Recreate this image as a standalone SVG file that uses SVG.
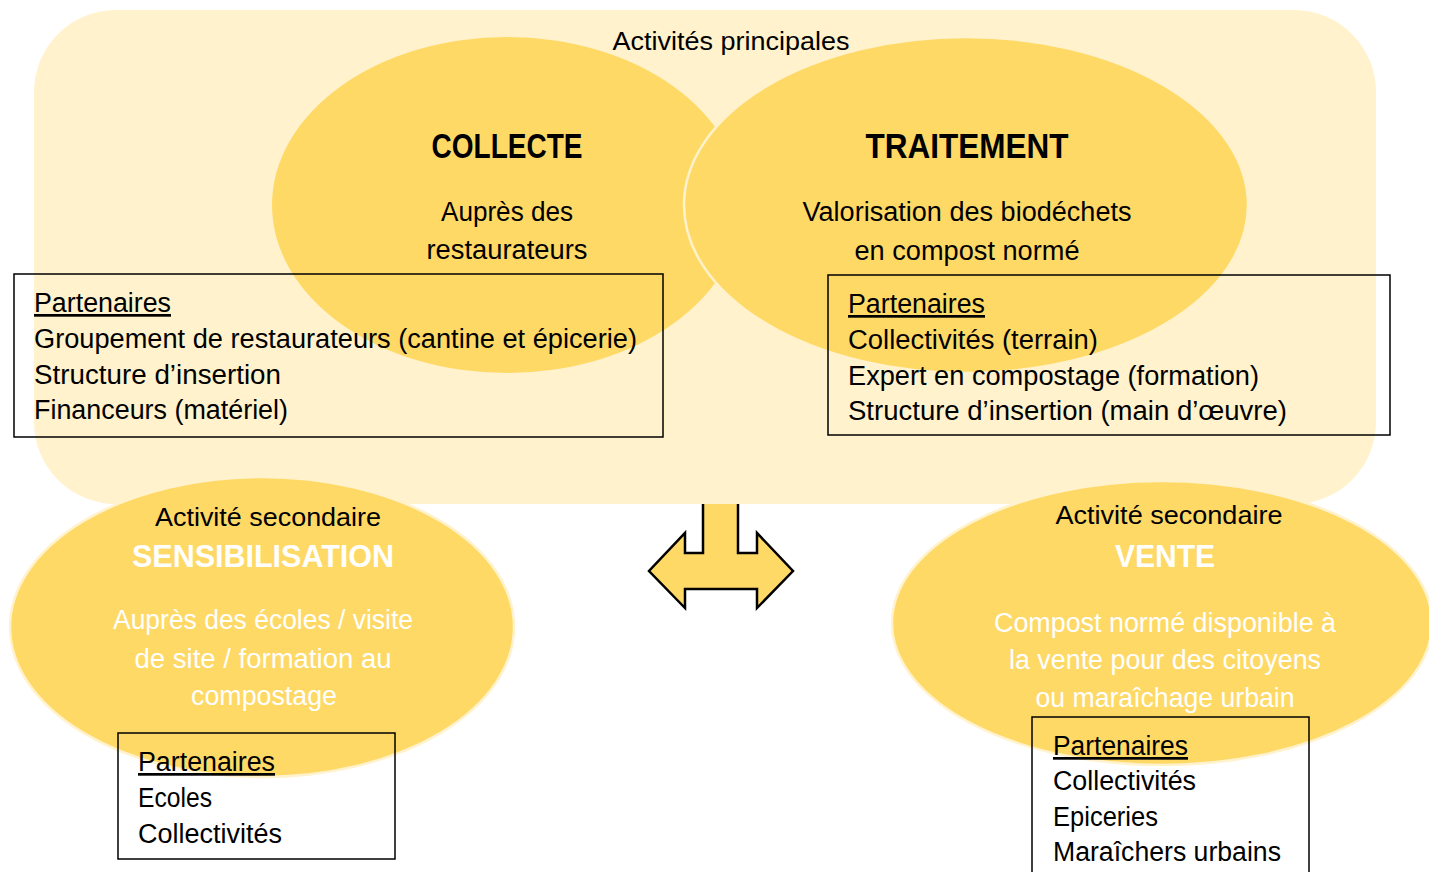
<svg xmlns="http://www.w3.org/2000/svg" width="1429" height="872" viewBox="0 0 1429 872">
<style>
text{font-family:"Liberation Sans",Arial,sans-serif;}
.t{font-size:25px;fill:#000;}
.b{font-size:27px;fill:#000;}
.w{font-size:27px;fill:#fff;}
.h{font-size:35px;font-weight:bold;fill:#000;}
.hw{font-size:32px;font-weight:bold;fill:#fff;}
.u{text-decoration:underline;}
.box{fill:none;stroke:#000;stroke-width:1.5;}
.ell{fill:#FFD966;}
.ells{fill:#FFD966;stroke:#FFF2CC;stroke-width:2.5;}
</style>
<rect width="1429" height="872" fill="#fff"/>
<g id="connectors">
<polygon points="703,490 738,490 738,553 757,553 757,533 793,571 757,608 757,589 685,589 685,608 649,571 685,533 685,553 703,553" fill="#FFD966" stroke="#000" stroke-width="2.5" stroke-linejoin="miter"/>
</g>
<g id="principal">
<rect x="34" y="10" width="1342" height="494" rx="82" ry="82" fill="#FFF2CC"/>
<text class="t" x="731" y="50" text-anchor="middle" textLength="237" lengthAdjust="spacingAndGlyphs">Activités principales</text>
</g>
<g id="collecte">
<ellipse class="ell" cx="507" cy="205" rx="235" ry="168"/>
</g>
<g id="traitement">
<ellipse class="ells" cx="966" cy="205" rx="282" ry="168"/>
<text class="h" x="967" y="158" text-anchor="middle" textLength="203" lengthAdjust="spacingAndGlyphs">TRAITEMENT</text>
<text class="b" x="967" y="221" text-anchor="middle" textLength="329" lengthAdjust="spacingAndGlyphs">Valorisation des biodéchets</text>
<text class="b" x="967" y="260" text-anchor="middle" textLength="225" lengthAdjust="spacingAndGlyphs">en compost normé</text>
</g>
<g id="collecte-text">
<text class="h" x="507" y="158" text-anchor="middle" textLength="151" lengthAdjust="spacingAndGlyphs">COLLECTE</text>
<text class="b" x="507" y="221" text-anchor="middle" textLength="132" lengthAdjust="spacingAndGlyphs">Auprès des</text>
<text class="b" x="507" y="259" text-anchor="middle" textLength="161" lengthAdjust="spacingAndGlyphs">restaurateurs</text>
</g>
<g id="collecte-partenaires">
<rect class="box" x="14" y="274" width="649" height="163"/>
<text class="b u" x="34" y="312" textLength="137" lengthAdjust="spacingAndGlyphs">Partenaires</text>
<text class="b" x="34" y="348" textLength="603" lengthAdjust="spacingAndGlyphs">Groupement de restaurateurs (cantine et épicerie)</text>
<text class="b" x="34" y="384" textLength="247" lengthAdjust="spacingAndGlyphs">Structure d’insertion</text>
<text class="b" x="34" y="419" textLength="254" lengthAdjust="spacingAndGlyphs">Financeurs (matériel)</text>
</g>
<g id="traitement-partenaires">
<rect class="box" x="828" y="275" width="562" height="160"/>
<text class="b u" x="848" y="313" textLength="137" lengthAdjust="spacingAndGlyphs">Partenaires</text>
<text class="b" x="848" y="349" textLength="250" lengthAdjust="spacingAndGlyphs">Collectivités (terrain)</text>
<text class="b" x="848" y="385" textLength="411" lengthAdjust="spacingAndGlyphs">Expert en compostage (formation)</text>
<text class="b" x="848" y="420" textLength="439" lengthAdjust="spacingAndGlyphs">Structure d’insertion (main d’œuvre)</text>
</g>
<g id="sensibilisation">
<ellipse class="ells" cx="262" cy="627" rx="252" ry="150"/>
<text class="t" x="268" y="526" text-anchor="middle" textLength="226" lengthAdjust="spacingAndGlyphs">Activité secondaire</text>
<text class="hw" x="263" y="567" text-anchor="middle" textLength="262" lengthAdjust="spacingAndGlyphs">SENSIBILISATION</text>
<text class="w" x="263" y="629" text-anchor="middle" textLength="300" lengthAdjust="spacingAndGlyphs">Auprès des écoles / visite</text>
<text class="w" x="263" y="668" text-anchor="middle" textLength="257" lengthAdjust="spacingAndGlyphs">de site / formation au</text>
<text class="w" x="264" y="705" text-anchor="middle" textLength="146" lengthAdjust="spacingAndGlyphs">compostage</text>
</g>
<g id="sensibilisation-partenaires">
<rect class="box" x="118" y="733" width="277" height="126"/>
<text class="b u" x="138" y="771" textLength="137" lengthAdjust="spacingAndGlyphs">Partenaires</text>
<text class="b" x="138" y="807" textLength="74" lengthAdjust="spacingAndGlyphs">Ecoles</text>
<text class="b" x="138" y="843" textLength="144" lengthAdjust="spacingAndGlyphs">Collectivités</text>
</g>
<g id="vente">
<ellipse class="ells" cx="1162" cy="623" rx="270" ry="142"/>
<text class="t" x="1169" y="524" text-anchor="middle" textLength="227" lengthAdjust="spacingAndGlyphs">Activité secondaire</text>
<text class="hw" x="1165" y="567" text-anchor="middle" textLength="100" lengthAdjust="spacingAndGlyphs">VENTE</text>
<text class="w" x="1165" y="632" text-anchor="middle" textLength="342" lengthAdjust="spacingAndGlyphs">Compost normé disponible à</text>
<text class="w" x="1165" y="669" text-anchor="middle" textLength="312" lengthAdjust="spacingAndGlyphs">la vente pour des citoyens</text>
<text class="w" x="1165" y="707" text-anchor="middle" textLength="259" lengthAdjust="spacingAndGlyphs">ou maraîchage urbain</text>
</g>
<g id="vente-partenaires">
<rect class="box" x="1032" y="717" width="277" height="170"/>
<text class="b u" x="1053" y="755" textLength="135" lengthAdjust="spacingAndGlyphs">Partenaires</text>
<text class="b" x="1053" y="790" textLength="143" lengthAdjust="spacingAndGlyphs">Collectivités</text>
<text class="b" x="1053" y="826" textLength="105" lengthAdjust="spacingAndGlyphs">Epiceries</text>
<text class="b" x="1053" y="861" textLength="228" lengthAdjust="spacingAndGlyphs">Maraîchers urbains</text>
</g>
</svg>
